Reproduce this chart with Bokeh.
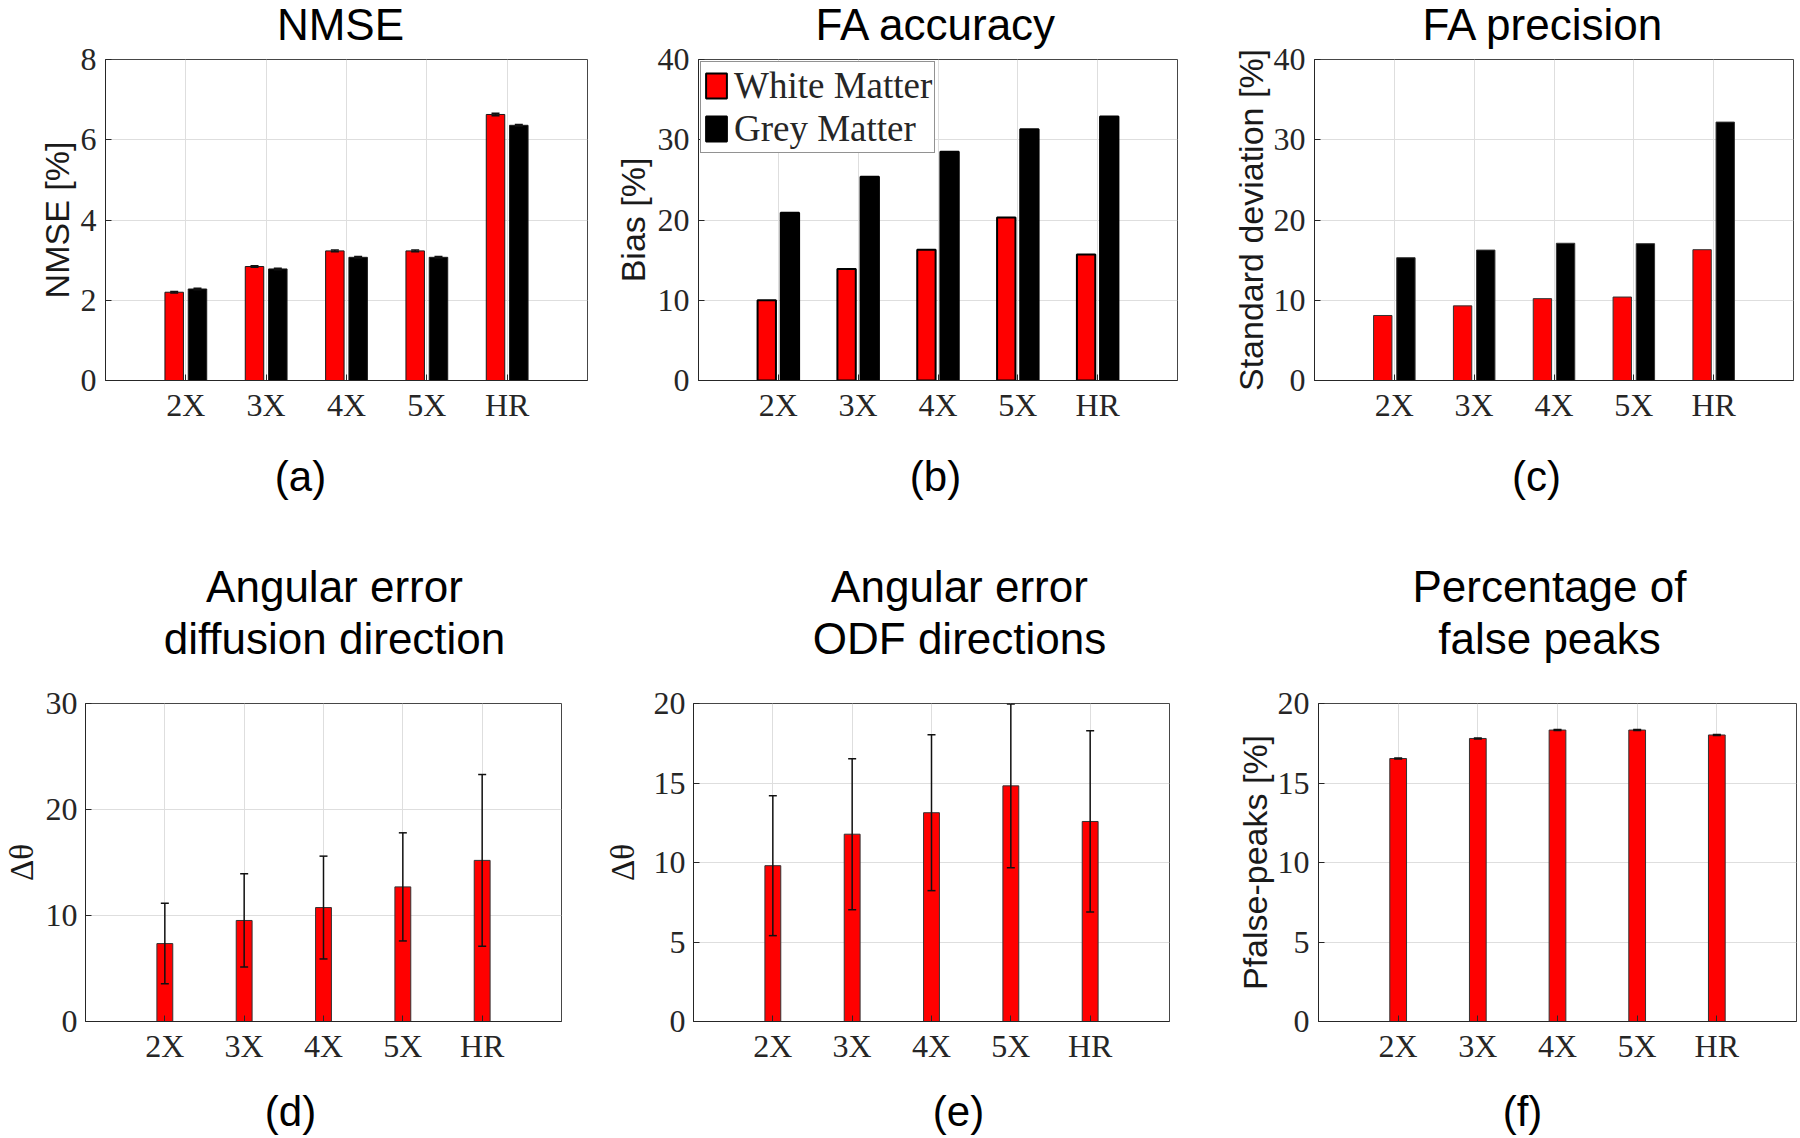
from bokeh.plotting import figure
from bokeh.models import Range1d, FixedTicker, Label, Whisker, ColumnDataSource, TeeHead
from bokeh.layouts import column, row
from bokeh.embed import file_html
from bokeh.resources import INLINE

# ---------------- data ----------------
categories = ["2X", "3X", "4X", "5X", "HR"]
series_names = ["White Matter", "Grey Matter"]

nmse_wm = [2.20, 2.84, 3.23, 3.23, 6.63]
nmse_gm = [2.28, 2.78, 3.07, 3.07, 6.36]
nmse_wm_err = [0.02, 0.02, 0.02, 0.02, 0.03]
nmse_gm_err = [0.02, 0.02, 0.02, 0.02, 0.02]

fa_bias_wm = [10.0, 13.9, 16.3, 20.3, 15.7]
fa_bias_gm = [20.9, 25.4, 28.5, 31.3, 32.9]

fa_std_wm = [8.1, 9.3, 10.2, 10.4, 16.3]
fa_std_gm = [15.3, 16.25, 17.1, 17.05, 32.2]

ang_diff = [7.35, 9.53, 10.75, 12.7, 15.2]
ang_diff_err = [3.8, 4.4, 4.85, 5.1, 8.1]

ang_odf = [9.8, 11.78, 13.13, 14.82, 12.58]
ang_odf_err = [4.4, 4.75, 4.9, 5.15, 5.7]

false_peaks = [16.54, 17.8, 18.33, 18.33, 18.02]
false_peaks_err = [0.03, 0.03, 0.03, 0.03, 0.03]

titles_top = ["NMSE", "FA accuracy", "FA precision"]
titles_bottom = [("Angular error", "diffusion direction"),
                 ("Angular error", "ODF directions"),
                 ("Percentage of", "false peaks")]
panel_tags = ["(a)", "(b)", "(c)", "(d)", "(e)", "(f)"]

# ---------------- style ----------------
SERIF = "Liberation Serif"
SANS = "Liberation Sans"
RED = "#ff0000"
DARK = "#262626"
GRID = "#dedede"
PAGE_W = 1800
XMAX = 6
TITLE1_H = 52

# subplot geometry: size and borders (places the frames)
GEOM = {
    "a": dict(w=600, h=440, L=105, R=13, T=59, B=60),
    "b": dict(w=590, h=440, L=98, R=13, T=59, B=60),
    "c": dict(w=610, h=440, L=124, R=7, T=59, B=60),
    "d": dict(w=601, h=405, L=80, R=40, T=33, B=54),
    "e": dict(w=631, h=405, L=89, R=63, T=33, B=54),
    "f": dict(w=568, h=405, L=84, R=4, T=33, B=54),
}


def make_fig(key, ymax, yticks, ylabel, ylabel_font, ylabel_size, ylabel_standoff, ylab_tick_standoff=9):
    g = GEOM[key]
    p = figure(width=g["w"], height=g["h"], x_range=Range1d(0, XMAX), y_range=Range1d(0, ymax),
               output_backend="svg", toolbar_location=None, title=None,
               min_border_left=g["L"], min_border_right=g["R"],
               min_border_top=g["T"], min_border_bottom=g["B"])
    p.background_fill_color = "white"
    p.border_fill_color = "white"
    p.border_fill_alpha = 0
    p.outline_line_color = DARK
    p.outline_line_width = 1
    p.outline_line_alpha = 0.85
    p.xaxis.ticker = FixedTicker(ticks=[1, 2, 3, 4, 5])
    p.xaxis.major_label_overrides = {i + 1: c for i, c in enumerate(categories)}
    p.yaxis.ticker = FixedTicker(ticks=yticks)
    p.axis.major_label_text_font = SERIF
    p.axis.major_label_text_font_size = "32px"
    p.axis.major_label_text_color = DARK
    p.axis.major_tick_in = 6
    p.axis.major_tick_out = 0
    p.axis.minor_tick_line_color = None
    p.axis.axis_line_color = DARK
    p.axis.major_tick_line_color = DARK
    p.xaxis.major_label_standoff = 6
    p.yaxis.major_label_standoff = ylab_tick_standoff
    p.yaxis.axis_label = ylabel
    p.yaxis.axis_label_text_font = ylabel_font
    p.yaxis.axis_label_text_font_size = ylabel_size
    p.yaxis.axis_label_text_font_style = "normal"
    p.yaxis.axis_label_text_color = "#1a1a1a"
    p.yaxis.axis_label_standoff = ylabel_standoff
    p.grid.grid_line_color = GRID
    p.grid.grid_line_width = 1
    return p


def whiskers(p, xs, vals, errs, head=8):
    src = ColumnDataSource(dict(x=xs,
                                upper=[v + e for v, e in zip(vals, errs)],
                                lower=[v - e for v, e in zip(vals, errs)]))
    w = Whisker(base="x", upper="upper", lower="lower", source=src, dimension="height",
                line_color="#111111", line_width=1.5, level="annotation",
                upper_head=TeeHead(size=head, line_color="#111111", line_width=1.5),
                lower_head=TeeHead(size=head, line_color="#111111", line_width=1.5))
    p.add_layout(w)


def text_fig(height, page_top, items, **kw):
    """A transparent strip without axes whose frame is the whole strip; items are
    (page_x, page_y_of_text_centre, text, font_size)."""
    p = figure(width=PAGE_W, height=height, x_range=Range1d(0, PAGE_W), y_range=Range1d(0, height),
               title=None, x_axis_type=None, y_axis_type=None, toolbar_location=None,
               output_backend="svg", min_border=0, **kw)
    p.outline_line_color = None
    p.background_fill_alpha = 0
    p.border_fill_alpha = 0
    for px, py, text, size in items:
        p.add_layout(Label(x=px, y=height - (py - page_top), text=text, text_font=SANS,
                           text_font_size=size, text_align="center", text_baseline="middle",
                           text_color="black"))
    return p


pos = [i + 1 for i in range(len(categories))]
OFF = 0.145
BW = 0.23

# ---------------- (a) NMSE ----------------
pa = make_fig("a", 8, [0, 2, 4, 6, 8], "NMSE [%]", SANS, "34px", 2)
xa_r = [x - OFF for x in pos]
xa_k = [x + OFF for x in pos]
pa.vbar(x=xa_r, top=nmse_wm, width=BW, fill_color=RED, line_color="#1a1a1a", line_width=1)
pa.vbar(x=xa_k, top=nmse_gm, width=BW, fill_color="black", line_color="#1a1a1a", line_width=1)
whiskers(pa, xa_r, nmse_wm, nmse_wm_err)
whiskers(pa, xa_k, nmse_gm, nmse_gm_err)

# ---------------- (b) FA accuracy ----------------
pb = make_fig("b", 40, [0, 10, 20, 30, 40], "Bias [%]", SANS, "34px", 3)
pb.vbar(x=[x - OFF for x in pos], top=fa_bias_wm, width=BW, fill_color=RED, line_color="black",
        line_width=2, legend_label=series_names[0])
pb.vbar(x=[x + OFF for x in pos], top=fa_bias_gm, width=BW, fill_color="black", line_color="black",
        line_width=2, legend_label=series_names[1])
pb.legend.location = "top_left"
pb.legend.margin = 2
pb.legend.padding = 2
pb.legend.spacing = 0
pb.legend.glyph_width = 26
pb.legend.glyph_height = 31
pb.legend.label_standoff = 5
pb.legend.label_text_font = SERIF
pb.legend.label_text_font_size = "37px"
pb.legend.label_text_color = DARK
pb.legend.border_line_color = DARK
pb.legend.border_line_width = 1
pb.legend.background_fill_color = "white"
pb.legend.background_fill_alpha = 1

# ---------------- (c) FA precision ----------------
pc = make_fig("c", 40, [0, 10, 20, 30, 40], "Standard deviation [%]", SANS, "34px", 1)
pc.vbar(x=[x - OFF for x in pos], top=fa_std_wm, width=BW, fill_color=RED, line_color="#333333", line_width=1)
pc.vbar(x=[x + OFF for x in pos], top=fa_std_gm, width=BW, fill_color="black", line_color="#333333", line_width=1)

# ---------------- (d) Angular error diffusion direction ----------------
pd_ = make_fig("d", 30, [0, 10, 20, 30], "Δθ", SERIF, "33px", 3, ylab_tick_standoff=8)
pd_.vbar(x=pos, top=ang_diff, width=0.2, fill_color=RED, line_color="#333333", line_width=1)
whiskers(pd_, pos, ang_diff, ang_diff_err)

# ---------------- (e) Angular error ODF directions ----------------
pe = make_fig("e", 20, [0, 5, 10, 15, 20], "Δθ", SERIF, "33px", 10, ylab_tick_standoff=8)
pe.vbar(x=pos, top=ang_odf, width=0.2, fill_color=RED, line_color="#333333", line_width=1)
whiskers(pe, pos, ang_odf, ang_odf_err)

# ---------------- (f) Percentage of false peaks ----------------
pf = make_fig("f", 20, [0, 5, 10, 15, 20], "Pfalse-peaks [%]", SANS, "34px", 1)
pf.vbar(x=pos, top=false_peaks, width=0.21, fill_color=RED, line_color="#333333", line_width=1)
whiskers(pf, pos, false_peaks, false_peaks_err)

# ---------------- text strips (titles and panel tags) ----------------
# first-row titles: a transparent strip that the first row of panels overlaps
title1 = text_fig(TITLE1_H, 0, [
    (340, 24, titles_top[0], "44px"),
    (936, 24, titles_top[1], "44px"),
    (1543, 24, titles_top[2], "44px"),
])
tags1 = text_fig(80, 440, [
    (300, 476, panel_tags[0], "42px"),
    (935, 476, panel_tags[1], "42px"),
    (1536, 476, panel_tags[2], "42px"),
])
title2 = text_fig(150, 520, [
    (334, 586, titles_bottom[0][0], "44px"),
    (334, 638, titles_bottom[0][1], "44px"),
    (959, 586, titles_bottom[1][0], "44px"),
    (959, 638, titles_bottom[1][1], "44px"),
    (1549, 586, titles_bottom[2][0], "44px"),
    (1549, 638, titles_bottom[2][1], "44px"),
])
tags2 = text_fig(61, 1075, [
    (290, 1111, panel_tags[3], "42px"),
    (958, 1111, panel_tags[4], "42px"),
    (1522, 1111, panel_tags[5], "42px"),
])

row1 = row(pa, pb, pc, margin=(-TITLE1_H, 0, 0, 0))
layout = column(title1, row1, tags1, title2, row(pd_, pe, pf), tags2)
open("out.html", "w").write(file_html(layout, INLINE))
